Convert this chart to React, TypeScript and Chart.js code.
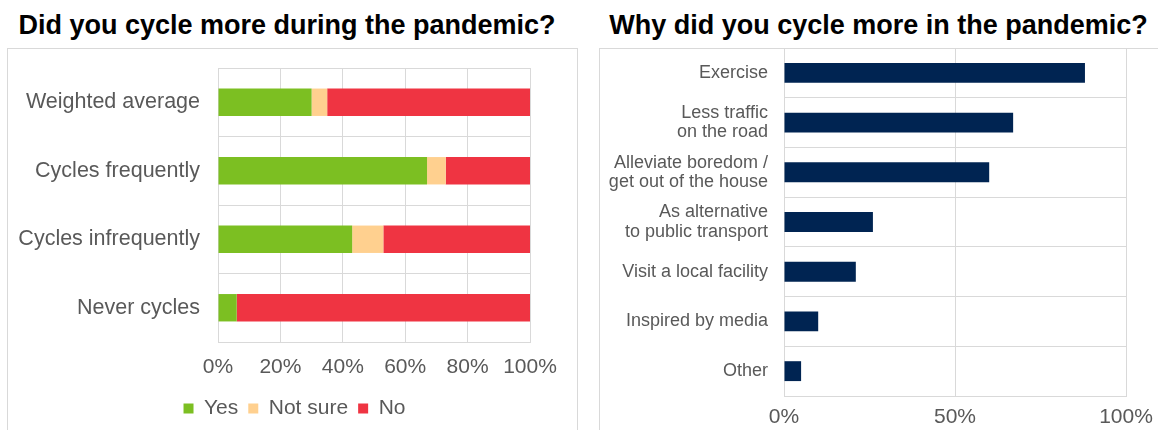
import React, { useEffect, useRef } from 'react';
import { Chart, registerables } from 'chart.js';
Chart.register(...registerables);

const leftTitle = 'Did you cycle more during the pandemic?';
const rightTitle = 'Why did you cycle more in the pandemic?';

const leftCategories = ['Weighted average', 'Cycles frequently', 'Cycles infrequently', 'Never cycles'];
const yesValues = [30, 67, 43, 6];
const notSureValues = [5, 6, 10, 0];
const noValues = [65, 27, 47, 94];
const seriesNames = ['Yes', 'Not sure', 'No'];

const rightCategories = [
  ['Exercise'],
  ['Less traffic', 'on the road'],
  ['Alleviate boredom /', 'get out of the house'],
  ['As alternative', 'to public transport'],
  ['Visit a local facility'],
  ['Inspired by media'],
  ['Other'],
];
const reasonValues = [88, 67, 60, 26, 21, 10, 5];

const FAMILY = '"Liberation Sans", Arial, sans-serif';
const GRID = '#d9d9d9';
const TEXT = '#595959';

// widen the legend band to the whole canvas so it is centred under the full box
const legendSpan = {
  id: 'legendSpan',
  beforeDraw(chart: any) {
    if (chart.legend) {
      chart.legend.left = 0;
      chart.legend.right = 573;
    }
  },
};

function LeftChart() {
  const ref = useRef<HTMLCanvasElement>(null);
  useEffect(() => {
    const chart = new Chart(ref.current!, {
      type: 'bar',
      data: {
        labels: leftCategories,
        datasets: [
          { label: seriesNames[0], data: yesValues, backgroundColor: '#7CBF22', categoryPercentage: 1, barPercentage: 0.4 },
          { label: seriesNames[1], data: notSureValues, backgroundColor: '#FFD08F', categoryPercentage: 1, barPercentage: 0.4 },
          { label: seriesNames[2], data: noValues, backgroundColor: '#EF3442', categoryPercentage: 1, barPercentage: 0.4 },
        ],
      },
      options: {
        indexAxis: 'y',
        animation: false,
        responsive: false,
        devicePixelRatio: 1,
        layout: { padding: { top: 19, right: 46, bottom: 1, left: 0 } },
        plugins: {
          legend: {
            position: 'bottom',
            labels: { boxWidth: 10, boxHeight: 10, padding: 10, color: TEXT, font: { size: 21, family: FAMILY } },
          },
          tooltip: { enabled: false },
        },
        scales: {
          x: {
            stacked: true,
            min: 0,
            max: 100,
            ticks: { stepSize: 20, callback: (v: any) => v + '%', color: TEXT, font: { size: 21, family: FAMILY }, padding: 13, maxRotation: 0 },
            grid: { color: GRID, drawTicks: false },
            border: { color: GRID },
            afterFit: (s: any) => { s.height = 46; s.paddingLeft = 0; s.paddingRight = 0; },
          },
          y: {
            stacked: true,
            grid: { color: GRID, drawTicks: false, offset: true },
            border: { color: GRID },
            ticks: { color: TEXT, font: { size: 21.5, family: FAMILY }, padding: 18 },
            afterFit: (s: any) => { s.width = 210; s.paddingTop = 0; s.paddingBottom = 0; },
          },
        },
      },
      plugins: [legendSpan],
    } as any);
    return () => chart.destroy();
  }, []);
  return <canvas ref={ref} width={568} height={381} style={{ position: 'absolute', left: 8, top: 49, width: 568, height: 381 }} />;
}

function RightChart() {
  const ref = useRef<HTMLCanvasElement>(null);
  useEffect(() => {
    const chart = new Chart(ref.current!, {
      type: 'bar',
      data: {
        labels: rightCategories,
        datasets: [
          { label: 'Share', data: reasonValues, backgroundColor: '#002452', categoryPercentage: 1, barPercentage: 0.4 },
        ],
      },
      options: {
        indexAxis: 'y',
        animation: false,
        responsive: false,
        devicePixelRatio: 1,
        layout: { padding: { top: 0, right: 32, bottom: 0, left: 0 } },
        plugins: { legend: { display: false }, tooltip: { enabled: false } },
        scales: {
          x: {
            min: 0,
            max: 100,
            ticks: { stepSize: 50, callback: (v: any) => v + '%', color: TEXT, font: { size: 21, family: FAMILY }, padding: 9, maxRotation: 0 },
            grid: { color: GRID, drawTicks: false },
            border: { color: GRID },
            afterFit: (s: any) => { s.height = 34; s.paddingLeft = 0; s.paddingRight = 0; },
          },
          y: {
            grid: { color: GRID, drawTicks: false, offset: true },
            border: { color: GRID },
            ticks: { color: TEXT, font: { size: 18, family: FAMILY, lineHeight: 1.07 }, padding: 16 },
            afterFit: (s: any) => { s.width = 184; s.paddingTop = 0; s.paddingBottom = 0; },
          },
        },
      },
    } as any);
    return () => chart.destroy();
  }, []);
  return <canvas ref={ref} width={558} height={382} style={{ position: 'absolute', left: 600, top: 48, width: 558, height: 382 }} />;
}

export default function App() {
  const titleStyle: React.CSSProperties = {
    position: 'absolute', top: 10, lineHeight: '30px', textAlign: 'center',
    fontWeight: 'bold', fontSize: 27, color: '#000', fontFamily: FAMILY, whiteSpace: 'nowrap',
  };
  return (
    <div style={{ position: 'fixed', left: 0, top: 0, width: 1158, height: 430, background: '#fff', overflow: 'hidden' }}>
      <div style={{ ...titleStyle, left: 0, width: 574 }}>{leftTitle}</div>
      <div style={{ ...titleStyle, left: 600, width: 557 }}>{rightTitle}</div>
      <div style={{ position: 'absolute', left: 7, top: 48, width: 571, height: 400, border: `1px solid ${GRID}`, boxSizing: 'border-box' }} />
      <div style={{ position: 'absolute', left: 599, top: 48, width: 600, height: 400, border: `1px solid ${GRID}`, boxSizing: 'border-box' }} />
      <LeftChart />
      <RightChart />
    </div>
  );
}
